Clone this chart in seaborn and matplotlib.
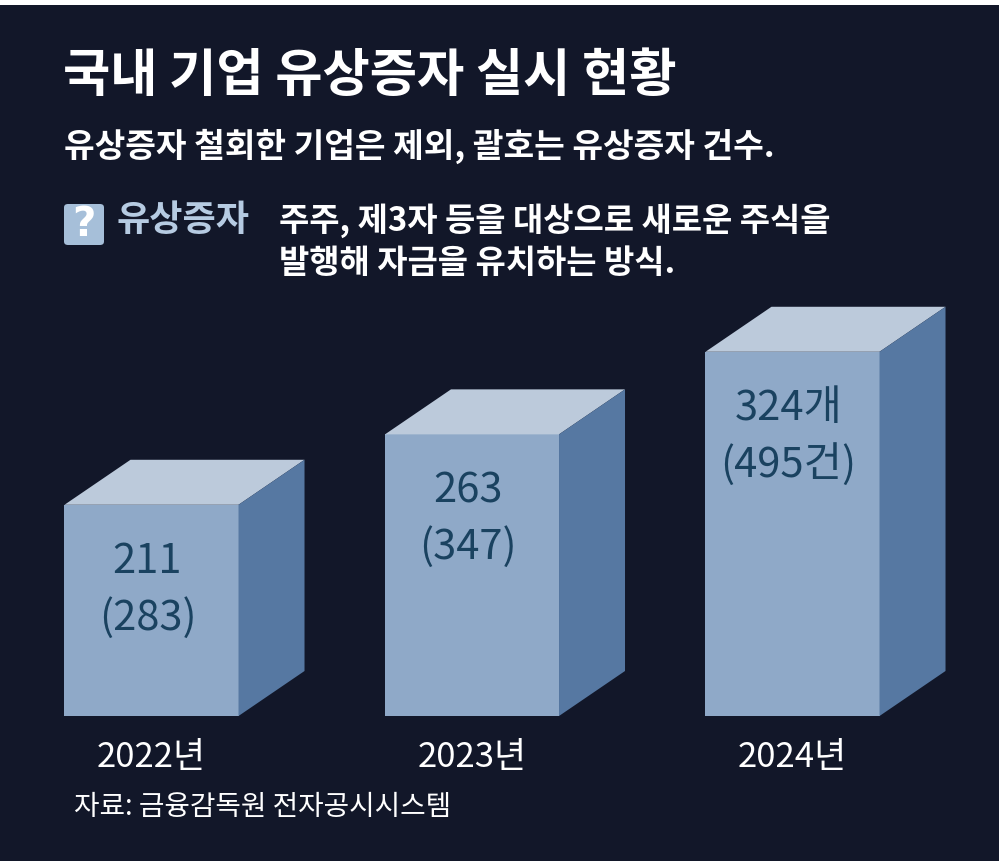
import matplotlib
matplotlib.use("Agg")
import matplotlib.pyplot as plt
from matplotlib.patches import Polygon, Rectangle, FancyBboxPatch
import pandas as pd
import seaborn as sns

# data
years = ["2022년", "2023년", "2024년"]
companies = [211, 263, 324]          # number of companies (bar height)
offerings = [283, 347, 495]          # number of rights offerings (in brackets)
count_labels = ["211", "263", "324개"]
case_labels = ["(283)", "(347)", "(495건)"]

BG = "#121729"
FRONT = "#8fa9c8"
TOP = "#bccadb"
SIDE = "#5678a2"
LABEL = "#1a4260"

sns.set_theme(style="white")
plt.rcParams["font.family"] = ["Noto Sans CJK KR", "DejaVu Sans"]

W, H = 1004, 866
fig = plt.figure(figsize=(W / 100, H / 100), dpi=100, facecolor="white")

def fx(px):
    return px / W

def fy(py):
    return 1 - py / H

# dark panel
fig.patches.append(Rectangle((0, fy(861)), fx(999), fy(5) - fy(861),
                             transform=fig.transFigure, facecolor=BG,
                             edgecolor="none", zorder=-5))

# header
fig.text(fx(63), fy(76), "국내 기업 유상증자 실시 현황", color="white",
         fontsize=37, fontweight="bold", va="center", ha="left")
fig.text(fx(64), fy(146), "유상증자 철회한 기업은 제외, 괄호는 유상증자 건수.",
         color="white", fontsize=24, fontweight="semibold", va="center", ha="left")

# question box
fig.patches.append(FancyBboxPatch((fx(64), fy(245)), fx(40), fy(204) - fy(245),
                                  boxstyle="round,pad=0,rounding_size=0.004",
                                  transform=fig.transFigure, facecolor="#a6bfd9",
                                  edgecolor="none", zorder=1))
fig.text(fx(84), fy(225), "?", color="white", fontsize=29, fontweight="bold",
         va="center", ha="center", family=["DejaVu Sans"])
fig.text(fx(117), fy(221), "유상증자", color="#b6cbe2", fontsize=26,
         fontweight="semibold", va="center", ha="left")
fig.text(fx(279), fy(221), "주주, 제3자 등을 대상으로 새로운 주식을", color="white",
         fontsize=23.7, fontweight="semibold", va="center", ha="left")
fig.text(fx(279), fy(264), "발행해 자금을 유치하는 방식.", color="white",
         fontsize=23.7, fontweight="semibold", va="center", ha="left")

# source
fig.text(fx(74), fy(807), "자료: 금융감독원 전자공시시스템", color="white",
         fontsize=20, va="center", ha="left")

# bars
base_px, top_px = 716, 300
ax = fig.add_axes([0, fy(base_px), 1, fy(top_px) - fy(base_px)])
ax.patch.set_alpha(0)

df = pd.DataFrame({"year": years, "companies": companies})
sns.barplot(data=df, x="year", y="companies", color=FRONT, saturation=1,
            width=0.543, linewidth=0, ax=ax, zorder=2)

step = 320.5
ax.set_xlim(-151.5 / step, (W - 151.5) / step)
y0 = 55
ax.set_ylim(y0, y0 + (base_px - top_px) / 1.354)

for s in ax.spines.values():
    s.set_visible(False)
ax.set_yticks([])
ax.set_xlabel("")
ax.set_ylabel("")
ax.tick_params(axis="x", length=0, pad=17, labelsize=25, labelcolor="white")
for t in ax.get_xticklabels():
    t.set_fontweight("medium")

# depth of the boxes, in pixels, turned into data units
inv = ax.transData.inverted()
ox, oy = inv.transform((0, 0))
ex, ey = inv.transform((66, 45))
ddx, ddy = ex - ox, ey - oy

for i, p in enumerate(ax.patches):
    x0 = p.get_x()
    w = p.get_width()
    top = p.get_y() + p.get_height()
    top_face = [(x0, top), (x0 + w, top), (x0 + w + ddx, top + ddy), (x0 + ddx, top + ddy)]
    side_face = [(x0 + w, y0), (x0 + w, top), (x0 + w + ddx, top + ddy), (x0 + w + ddx, y0 + ddy)]
    ax.add_patch(Polygon(top_face, closed=True, facecolor=TOP, edgecolor="none",
                         clip_on=False, zorder=2))
    ax.add_patch(Polygon(side_face, closed=True, facecolor=SIDE, edgecolor="none",
                         clip_on=False, zorder=2))
    cx = x0 + w / 2
    ax.annotate(count_labels[i], xy=(cx, top), xytext=(-4, -57),
                textcoords="offset pixels", ha="center", va="center",
                fontsize=30, color=LABEL, zorder=3)
    ax.annotate(case_labels[i], xy=(cx, top), xytext=(-4, -113),
                textcoords="offset pixels", ha="center", va="center",
                fontsize=30, color=LABEL, zorder=3)

fig.savefig("out.png", dpi=100, facecolor=fig.get_facecolor())
